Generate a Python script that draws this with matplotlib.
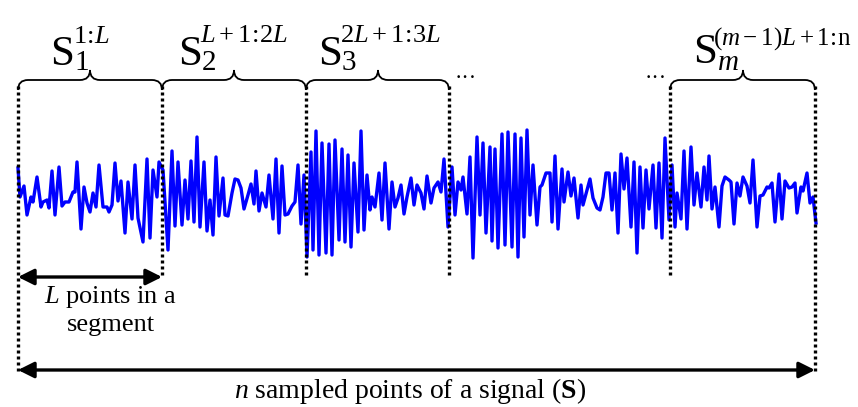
import numpy as np
import matplotlib
matplotlib.use("Agg")
import matplotlib.pyplot as plt
from matplotlib.path import Path
from matplotlib.patches import PathPatch

plt.rcParams['font.family'] = ['Liberation Serif', 'DejaVu Serif']
plt.rcParams['mathtext.fontset'] = 'custom'
plt.rcParams['mathtext.rm'] = 'Liberation Serif'
plt.rcParams['mathtext.it'] = 'Liberation Serif:italic'
plt.rcParams['mathtext.bf'] = 'Liberation Serif:bold'

# signal samples (pixel units, y grows downward)
sig_x = [18, 20, 24, 27, 31, 33, 37, 41, 43, 47, 49, 52, 55, 59, 62, 65, 69, 73, 75, 77,
         81, 84, 87, 90, 93, 96, 99, 103, 107, 109, 112, 115, 118, 121, 125, 128, 132, 135, 138, 143,
         147, 150, 153, 157, 159,
         163, 168, 172, 175, 178, 182, 185, 188, 191, 194, 197, 200, 204, 207, 210, 213, 216, 219, 223, 225,
         228, 232, 235, 238, 241, 244, 248, 251, 254, 256, 259, 262, 266, 269, 273, 276, 279, 282, 285, 288,
         292, 295, 298, 301, 304,
         307, 311, 313, 316, 319, 322, 326, 329, 332, 335, 339, 342, 345, 348, 351, 354, 358, 361, 364, 367,
         370, 372, 375, 379, 382, 385, 389, 392, 395, 398, 401, 404, 407, 411, 414, 417, 421, 424, 427, 431,
         434, 438, 441, 444, 448,
         452, 455, 458, 461, 463, 467, 470, 473, 477, 480, 483, 486, 490, 492, 495, 498, 502, 505, 508, 512,
         515, 518, 521, 524, 527, 530, 533, 537, 540, 542, 546, 550, 552, 555, 558, 562, 564, 568, 571, 574,
         578, 581, 583, 587, 590,
         593, 597, 600, 603, 606, 609, 612, 615, 618, 621, 624, 627, 631, 634, 637, 640, 643, 646, 649, 653,
         656, 659, 662, 665, 669, 672, 675, 677, 681, 684, 687, 691, 694, 697, 701, 704, 707,
         709, 712, 715, 719, 722, 725, 729, 731, 734, 737, 740, 743, 747, 750, 753, 757, 760, 763, 767, 769,
         772, 775, 779, 782, 785, 789, 792, 795, 797, 801, 803, 807, 810, 813, 816]
sig_y = [168, 197, 186, 215, 197, 202, 177, 207, 202, 200, 208, 171, 215, 167, 206, 202, 202, 192, 192, 162,
         229, 187, 203, 212, 193, 207, 165, 207, 207, 212, 205, 163, 201, 181, 233, 182, 219, 165, 218, 242,
         159, 238, 170, 197, 162,
         170, 250, 151, 226, 162, 225, 180, 219, 161, 222, 137, 227, 162, 231, 200, 235, 157, 216, 178, 215,
         216, 193, 179, 180, 188, 209, 195, 184, 204, 171, 211, 193, 207, 175, 219, 159, 233, 166, 215, 214,
         206, 202, 165, 224, 175,
         257, 152, 250, 131, 255, 143, 253, 144, 255, 140, 240, 149, 242, 155, 247, 163, 232, 131, 230, 175,
         210, 197, 207, 173, 220, 163, 229, 182, 207, 198, 185, 214, 197, 178, 205, 185, 193, 209, 176, 203,
         188, 182, 192, 159, 227,
         167, 215, 182, 190, 177, 214, 157, 258, 137, 215, 143, 233, 147, 241, 149, 248, 134, 245, 132, 247,
         134, 257, 138, 237, 130, 215, 165, 225, 187, 185, 173, 173, 222, 156, 229, 169, 202, 172, 196, 178,
         218, 185, 205, 190, 179,
         198, 208, 210, 197, 173, 173, 210, 173, 233, 154, 189, 158, 227, 162, 253, 167, 228, 170, 209, 165,
         228, 163, 238, 138, 220, 165, 227, 193, 219, 151, 229, 147, 205, 173, 207, 167, 200,
         156, 209, 187, 227, 186, 177, 180, 182, 224, 183, 196, 177, 186, 203, 160, 227, 196, 195, 187, 188,
         183, 222, 174, 219, 181, 188, 187, 183, 213, 187, 191, 173, 203, 197, 223]

# segment boundaries and braces
bounds = [18, 162, 306, 449, 670, 815]
braces = [(18, 162, 90), (162, 306, 234), (306, 449, 378), (670, 815, 743)]
subs = ['1', '2', '3', r'$m$']
sups = [r'$1\!:\!L$', r'$L+1\!:\!2L$', r'$2L+1\!:\!3L$', r'$(m-1)L+1\!:\!\mathrm{n}$']
label_x = [50, 178, 318, 693]
label_base = [65, 65, 65, 63]
sup_base = [43, 42, 42, 45]
sup_size = [19, 19, 19, 18]
sup_dx = [23, 22, 22, 20]


def brace(ax, x0, x1, xm, yl=80, r=10):
    verts = [(x0, yl + r), (x0, yl), (x0 + r, yl),
             (xm - r, yl), (xm, yl), (xm, yl - r),
             (xm, yl), (xm + r, yl),
             (x1 - r, yl), (x1, yl), (x1, yl + r)]
    codes = [Path.MOVETO, Path.CURVE3, Path.CURVE3,
             Path.LINETO, Path.CURVE3, Path.CURVE3,
             Path.CURVE3, Path.CURVE3,
             Path.LINETO, Path.CURVE3, Path.CURVE3]
    ax.add_patch(PathPatch(Path(verts, codes), fill=False, lw=1.3, color='k'))


fig = plt.figure(figsize=(8.58, 4.07), dpi=100)
ax = fig.add_axes([0, 0, 1, 1])
ax.set_xlim(0, 858)
ax.set_ylim(407, 0)
ax.axis('off')

ax.plot(sig_x, sig_y, color='#0000ff', lw=2.4, zorder=3)

for i, b in enumerate(bounds):
    y_end = 372 if i in (0, len(bounds) - 1) else 278
    ax.plot([b, b], [86, y_end], color='k', lw=2.4, ls=(0, (0.9, 0.9)), zorder=4)

for k, (x0, x1, xm) in enumerate(braces):
    brace(ax, x0, x1, xm)
    lx = label_x[k]
    ax.text(lx, label_base[k], 'S', fontsize=31, ha='left', va='baseline')
    ax.text(lx + 24, 70, subs[k], fontsize=21, ha='left', va='baseline')
    ax.text(lx + sup_dx[k], sup_base[k], sups[k], fontsize=sup_size[k], ha='left', va='baseline')

ax.text(466, 80, '···', fontsize=16, ha='center', va='center')
ax.text(656, 80, '···', fontsize=16, ha='center', va='center')

arrow = dict(arrowstyle='<|-|>', color='k', lw=2.4, mutation_scale=24, shrinkA=0, shrinkB=0)
ax.annotate('', xy=(162, 277), xytext=(18, 277), arrowprops=arrow)
ax.annotate('', xy=(815, 370), xytext=(18, 370), arrowprops=arrow)

ax.text(111, 297, r'$L$ points in a', fontsize=19, ha='center', va='center')
ax.text(111, 325, 'segment', fontsize=19, ha='center', va='center')
ax.text(410, 391, r'$n$ sampled points of a signal ($\mathbf{S}$)', fontsize=20,
        ha='center', va='center')

fig.savefig('out.png', dpi=100)
